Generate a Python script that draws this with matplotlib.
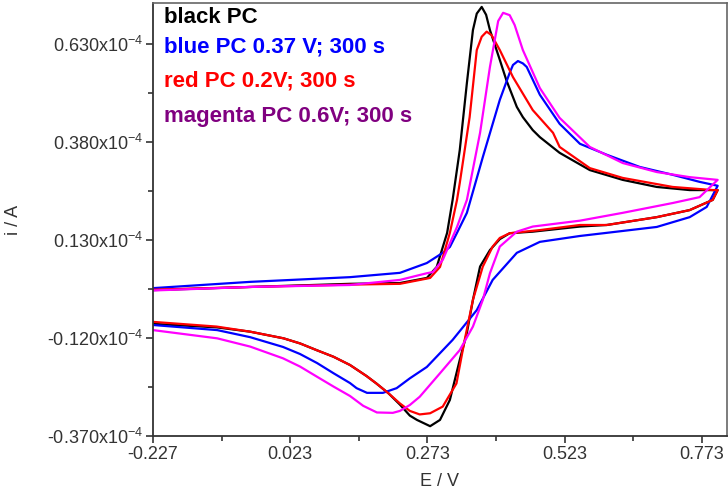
import matplotlib
matplotlib.use("Agg")
import matplotlib.pyplot as plt
from matplotlib.ticker import FixedLocator, FuncFormatter

plt.rcParams['font.family'] = ['Liberation Sans', 'DejaVu Sans']
plt.rcParams['mathtext.fontset'] = 'custom'
plt.rcParams['mathtext.rm'] = 'Liberation Sans'
plt.rcParams['mathtext.default'] = 'regular'

# Potential E / V and current i / (1e-4 A); forward branch then reverse branch
E_black = [-0.227, -0.050, 0.132, 0.223, 0.272, 0.290, 0.309, 0.319, 0.332, 0.345, 0.356, 0.363, 0.372,
           0.380, 0.387, 0.405, 0.417, 0.436, 0.447, 0.465, 0.478, 0.514, 0.569, 0.629, 0.691, 0.751, 0.802,
           0.793, 0.751, 0.691, 0.600, 0.551, 0.465, 0.423, 0.405, 0.387, 0.369, 0.356, 0.345, 0.332,
           0.314, 0.296, 0.278, 0.254, 0.241, 0.223, 0.202, 0.180, 0.162, 0.132, 0.102, 0.071, 0.041,
           0.011, -0.050, -0.111, -0.227]
i_black = [0.002, 0.010, 0.018, 0.020, 0.033, 0.061, 0.148, 0.232, 0.359, 0.530, 0.665, 0.707, 0.724,
           0.704, 0.665, 0.589, 0.537, 0.469, 0.443, 0.410, 0.392, 0.352, 0.308, 0.283, 0.265, 0.257, 0.257,
           0.232, 0.206, 0.188, 0.168, 0.164, 0.151, 0.147, 0.132, 0.104, 0.062, -0.023, -0.107, -0.176,
           -0.278, -0.329, -0.345, -0.329, -0.318, -0.290, -0.261, -0.236, -0.217, -0.189, -0.168, -0.151, -0.134,
           -0.121, -0.104, -0.093, -0.084]

E_blue = [-0.227, -0.050, 0.132, 0.223, 0.272, 0.301, 0.314, 0.327, 0.345, 0.374, 0.405, 0.423, 0.429,
          0.438, 0.447, 0.454, 0.478, 0.514, 0.551, 0.600, 0.660, 0.720, 0.769, 0.802,
          0.782, 0.751, 0.691, 0.600, 0.551, 0.478, 0.436, 0.392, 0.363, 0.319, 0.272, 0.241, 0.217,
          0.192, 0.163, 0.144, 0.132, 0.102, 0.072, 0.041, 0.010, -0.050, -0.110, -0.227]
i_blue = [0.007, 0.023, 0.035, 0.046, 0.071, 0.097, 0.112, 0.148, 0.199, 0.341, 0.487, 0.556, 0.576,
          0.586, 0.580, 0.571, 0.500, 0.426, 0.375, 0.347, 0.316, 0.296, 0.278, 0.268,
          0.214, 0.188, 0.163, 0.148, 0.140, 0.125, 0.097, 0.028, -0.049, -0.125, -0.194, -0.223, -0.248,
          -0.260, -0.260, -0.248, -0.235, -0.210, -0.184, -0.161, -0.143, -0.118, -0.100, -0.087]

E_red = [-0.227, -0.050, 0.132, 0.223, 0.278, 0.296, 0.314, 0.327, 0.332, 0.350, 0.363, 0.372, 0.381,
         0.390, 0.405, 0.429, 0.465, 0.502, 0.514, 0.569, 0.629, 0.720, 0.793, 0.802,
         0.793, 0.751, 0.691, 0.600, 0.551, 0.478, 0.423, 0.405, 0.392, 0.374, 0.356, 0.341, 0.326, 0.301,
         0.278, 0.259, 0.241, 0.223, 0.202, 0.180, 0.162, 0.132, 0.102, 0.071, 0.041, 0.011, -0.050,
         -0.111, -0.227]
i_red = [0.003, 0.010, 0.016, 0.018, 0.033, 0.061, 0.148, 0.232, 0.275, 0.443, 0.614, 0.648, 0.661,
         0.652, 0.614, 0.545, 0.461, 0.403, 0.367, 0.313, 0.288, 0.265, 0.257, 0.257,
         0.232, 0.206, 0.188, 0.168, 0.168, 0.155, 0.147, 0.135, 0.113, 0.062, -0.023, -0.125, -0.236, -0.295,
         -0.312, -0.315, -0.306, -0.287, -0.261, -0.236, -0.217, -0.189, -0.168, -0.151, -0.134, -0.121, -0.104,
         -0.091, -0.079]

E_magenta = [-0.227, -0.050, 0.132, 0.223, 0.272, 0.283, 0.301, 0.327, 0.345, 0.369, 0.387, 0.402, 0.411,
             0.423, 0.432, 0.447, 0.478, 0.514, 0.569, 0.629, 0.691, 0.751, 0.802,
             0.769, 0.720, 0.629, 0.551, 0.465, 0.436, 0.405, 0.387, 0.374, 0.356, 0.332, 0.296, 0.259,
             0.241, 0.223, 0.210, 0.181, 0.156, 0.132, 0.102, 0.072, 0.041, 0.010, -0.050, -0.110, -0.227]
i_magenta = [0.001, 0.010, 0.015, 0.028, 0.045, 0.048, 0.079, 0.163, 0.232, 0.403, 0.571, 0.688, 0.709,
             0.703, 0.678, 0.614, 0.517, 0.441, 0.367, 0.326, 0.303, 0.290, 0.283,
             0.239, 0.224, 0.199, 0.179, 0.164, 0.151, 0.113, 0.045, -0.023, -0.091, -0.151, -0.210, -0.270,
             -0.291, -0.306, -0.311, -0.310, -0.293, -0.268, -0.244, -0.219, -0.193, -0.172, -0.142, -0.121,
             -0.100]

legend_texts = ["black PC", "blue PC 0.37 V; 300 s", "red PC 0.2V; 300 s", "magenta PC 0.6V; 300 s"]
legend_colors = ["#000000", "#0000FF", "#FF0000", "#800080"]

x_major = [-0.227, 0.023, 0.273, 0.523, 0.773]
x_minor = [-0.102, 0.148, 0.398, 0.648]
y_major = [-0.370, -0.120, 0.130, 0.380, 0.630]
y_minor = [-0.245, 0.005, 0.255, 0.505]

fig = plt.figure(figsize=(7.28, 4.97), dpi=100)
ax = fig.add_axes([153/728, 61/497, 574/728, 433/497])

ax.plot(E_black, i_black, color="#000000", lw=1.6)
ax.plot(E_blue, i_blue, color="#0000FF", lw=1.6)
ax.plot(E_red, i_red, color="#FF0000", lw=1.6)
ax.plot(E_magenta, i_magenta, color="#FF00FF", lw=1.6)

ax.set_xlim(-0.227, 0.819)
ax.set_ylim(-0.370, 0.734)

ax.xaxis.set_major_locator(FixedLocator(x_major))
ax.xaxis.set_minor_locator(FixedLocator(x_minor))
ax.yaxis.set_major_locator(FixedLocator(y_major))
ax.yaxis.set_minor_locator(FixedLocator(y_minor))
ax.xaxis.set_major_formatter(FuncFormatter(lambda v, p: f"{v:.3f}"))
ax.yaxis.set_major_formatter(FuncFormatter(lambda v, p: f"{v:.3f}x10$^{{-4}}$"))

ax.tick_params(which='major', direction='out', length=5, width=1.2, color='#333333',
               labelsize=13, labelcolor='#333333', pad=2)
ax.tick_params(which='minor', direction='out', length=3.5, width=1.2, color='#333333')

for s in ['left', 'bottom']:
    ax.spines[s].set_color('#333333')
    ax.spines[s].set_linewidth(1.3)
for s in ['top', 'right']:
    ax.spines[s].set_color('#666666')
    ax.spines[s].set_linewidth(1.2)

ax.set_xlabel("E / V", fontsize=13, color='#333333')
ax.set_ylabel("i / A", fontsize=13, color='#333333')
ax.xaxis.set_label_coords(0.5, -0.085)
ax.yaxis.set_label_coords(-0.228, 0.5)

baselines = [23, 53, 87, 122]
for t, c, yp in zip(legend_texts, legend_colors, baselines):
    fig.text(164/728, 1 - yp/497, t, color=c, fontsize=16, fontweight='bold',
             ha='left', va='baseline')

fig.savefig("out.png", dpi=100)
